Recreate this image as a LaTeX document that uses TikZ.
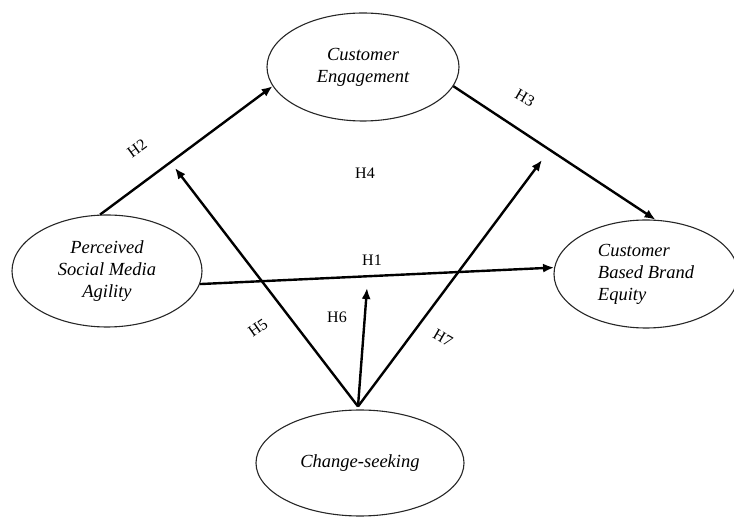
\documentclass[tikz,border=0pt]{standalone}
\usepackage{fontspec}
\setmainfont{Liberation Serif}
\usetikzlibrary{shapes.geometric, arrows, arrows.meta, positioning, calc}

\begin{document}
\begin{tikzpicture}[x=1pt, y=-1pt,
    construct/.style={ellipse, draw=black!85, line width=1.1pt, inner sep=0pt,
        font=\fontsize{18.5}{22}\selectfont\itshape, align=center},
    link/.style={-{Latex[length=11pt, width=9pt]}, line width=2.4pt},
    hyp/.style={font=\fontsize{16}{18}\selectfont}]
    \useasboundingbox (0,0) rectangle (734,518);

    % constructs
    \node[construct, minimum width=192pt, minimum height=108pt] (ce) at (363,67) {Customer\\Engagement};
    \node[construct, minimum width=190pt, minimum height=112pt] (psma) at (107,271) {Perceived\\Social Media\\Agility};
    \node[construct, minimum width=184pt, minimum height=108pt, align=left] (cbbe) at (646,274) {Customer\\Based Brand\\Equity};
    \node[construct, minimum width=208pt, minimum height=106pt] (cs) at (360,463) {Change-seeking};

    % free ends of the moderating paths
    \coordinate (hub) at ($(cs.north)+(-2,-3)$);
    \coordinate (h5end) at (175,168);
    \coordinate (h6end) at (367,288);
    \coordinate (h7end) at (542,160);

    % paths
    \draw[link] (psma.97) -- (ce.192);
    \draw[link] (ce.-12) -- (cbbe.80);
    \draw[link] (psma.-8) -- (cbbe.176);
    \draw[link] (hub) -- (h5end);
    \draw[link] (hub) -- (h6end);
    \draw[link] (hub) -- (h7end);

    % hypotheses
    \node[hyp, rotate=36] (h2) at (137,148) {H2};
    \node[hyp, rotate=-30] (h3) at (525,98) {H3};
    \node[hyp] (h4) at (365,173) {H4};
    \node[hyp] (h1) at (372,260) {H1};
    \node[hyp, rotate=35] (h5) at (258,328) {H5};
    \node[hyp] (h6) at (337,317) {H6};
    \node[hyp, rotate=-30] (h7) at (443,338) {H7};
\end{tikzpicture}
\end{document}
